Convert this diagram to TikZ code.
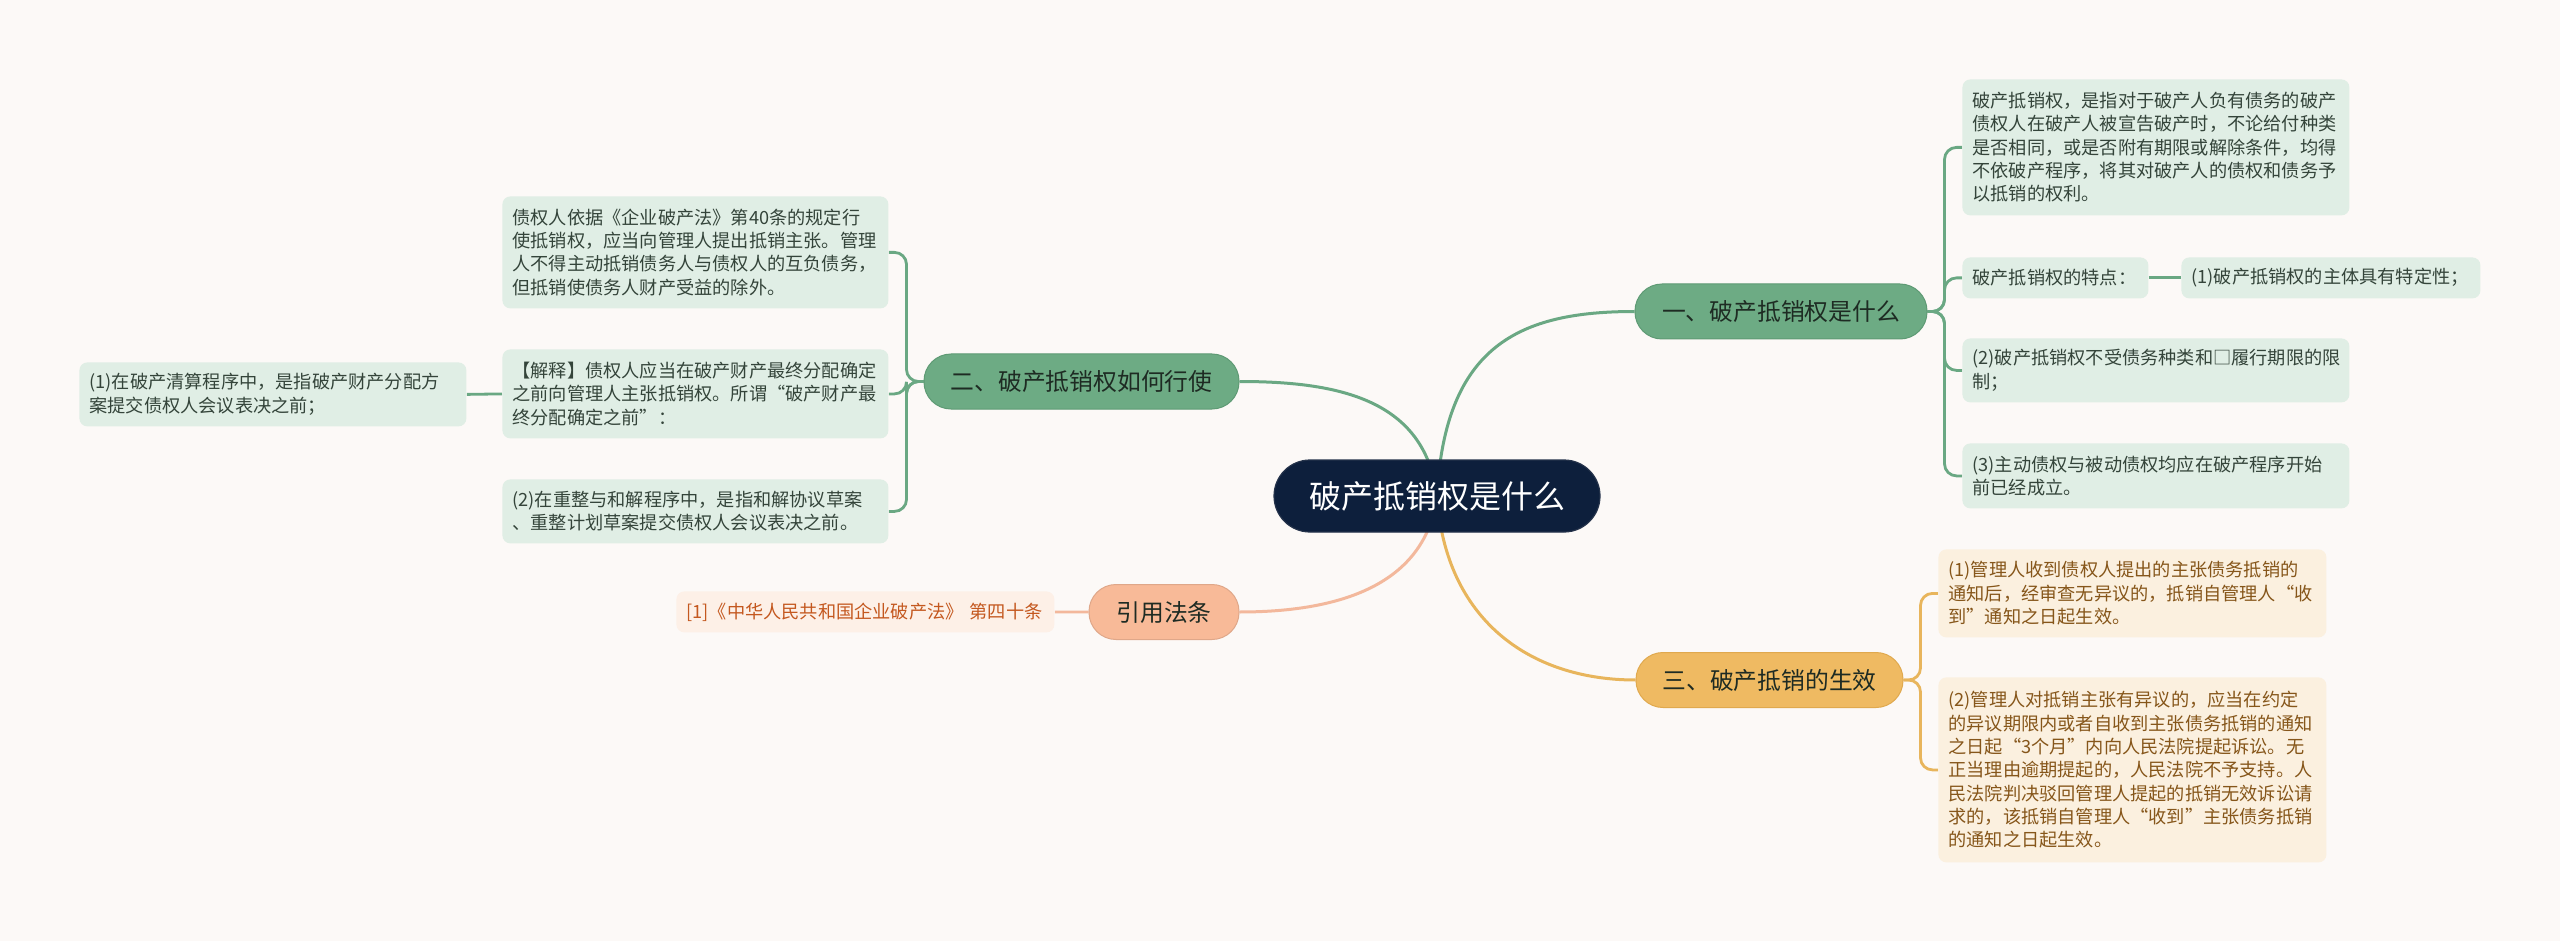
\documentclass[tikz,border=0pt]{standalone}
\usepackage{fontspec}
\setmainfont{Noto Sans CJK SC}
\definecolor{bgc}{HTML}{FCF9F7}
\definecolor{navy}{HTML}{0D1F3C}
\definecolor{gfill}{HTML}{6DAB84}
\definecolor{gdraw}{HTML}{5E9A74}
\definecolor{gline}{HTML}{6AA883}
\definecolor{gleaf}{HTML}{E0EEE5}
\definecolor{gtext}{HTML}{34443A}
\definecolor{btext}{HTML}{1E2B23}
\definecolor{yfill}{HTML}{EFBA62}
\definecolor{ydraw}{HTML}{E0A94E}
\definecolor{yline}{HTML}{E8B55C}
\definecolor{yleaf}{HTML}{FBF0DF}
\definecolor{ytext}{HTML}{86561A}
\definecolor{ofill}{HTML}{F8BA98}
\definecolor{oline}{HTML}{F3B89C}
\definecolor{oleaf}{HTML}{FDF0E7}
\definecolor{otext}{HTML}{C4581F}
\pgfdeclarelayer{bglayer}
\pgfdeclarelayer{linelayer}
\pgfsetlayers{bglayer,linelayer,main}
\begin{document}
\begin{tikzpicture}[x=0.5pt,y=-0.5pt,
  leafbox/.style={anchor=north west, rounded corners=4pt, inner xsep=5pt, inner ysep=0pt, align=left,
    font=\fontsize{9.1pt}{11.65pt}\selectfont},
  gleafbox/.style={leafbox, fill=gleaf, text=gtext},
  yleafbox/.style={leafbox, fill=yleaf, text=ytext},
  oleafbox/.style={leafbox, fill=oleaf, text=otext},
  branchbox/.style={rounded corners=13.5pt, minimum height=27.5pt, inner sep=0pt,
    font=\fontsize{11.9pt}{14pt}\selectfont, text=btext, line width=0.5pt},
  centralbox/.style={rounded corners=18pt, minimum height=36pt, minimum width=163pt, inner sep=0pt,
    fill=navy, draw=navy!80!gray, line width=0.6pt, text=white, font=\fontsize{16pt}{20pt}\selectfont},
  mainline/.style={line width=1.5pt},
  subline/.style={line width=1.4pt, rounded corners=6pt}
]
\useasboundingbox (0,0) rectangle (2560,941);
\begin{pgfonlayer}{bglayer}
\fill[bgc] (0,0) rectangle (2560,941);
\end{pgfonlayer}

% central and branches
\node[centralbox] (c) at (1437,496) {破产抵销权是什么};
\node[branchbox, fill=gfill, draw=gdraw, minimum width=146pt] (b1) at (1781,311.5) {一、破产抵销权是什么};
\node[branchbox, fill=gfill, draw=gdraw, minimum width=157.5pt] (b2) at (1081.5,381.5) {二、破产抵销权如何行使};
\node[branchbox, fill=yfill, draw=ydraw, minimum width=133.5pt] (b3) at (1769.5,680) {三、破产抵销的生效};
\node[branchbox, fill=ofill, draw=ofill!90!black, minimum width=75pt] (b4) at (1164,612) {引用法条};

% leaves of branch 1
\node[gleafbox, text width=183.5pt, minimum height=68pt] (l1a) at (1962,79)
 {破产抵销权，是指对于破产人负有债务的破产\\债权人在破产人被宣告破产时，不论给付种类\\是否相同，或是否附有期限或解除条件，均得\\不依破产程序，将其对破产人的债权和债务予\\以抵销的权利。};
\node[gleafbox, text width=83pt, minimum height=20.5pt] (l1b) at (1962,257) {破产抵销权的特点：};
\node[gleafbox, text width=139.5pt, minimum height=20.5pt] (l1b1) at (2181,257) {(1)破产抵销权的主体具有特定性；};
\node[gleafbox, text width=183.5pt, minimum height=32pt] (l1c) at (1962,338)
 {(2)破产抵销权不受债务种类和□履行期限的限\\制；};
\node[gleafbox, text width=183.5pt, minimum height=32.5pt] (l1d) at (1962,443)
 {(3)主动债权与被动债权均应在破产程序开始\\前已经成立。};

% leaves of branch 3
\node[yleafbox, text width=184pt, minimum height=44pt] (l3a) at (1938,549)
 {(1)管理人收到债权人提出的主张债务抵销的\\通知后，经审查无异议的，抵销自管理人“收\\到”通知之日起生效。};
\node[yleafbox, text width=184pt, minimum height=92.5pt] (l3b) at (1938,677)
 {(2)管理人对抵销主张有异议的，应当在约定\\的异议期限内或者自收到主张债务抵销的通知\\之日起“3个月”内向人民法院提起诉讼。无\\正当理由逾期提起的，人民法院不予支持。人\\民法院判决驳回管理人提起的抵销无效诉讼请\\求的，该抵销自管理人“收到”主张债务抵销\\的通知之日起生效。};

% leaves of branch 2
\node[gleafbox, text width=183pt, minimum height=56pt] (l2a) at (502,196)
 {债权人依据《企业破产法》第40条的规定行\\使抵销权，应当向管理人提出抵销主张。管理\\人不得主动抵销债务人与债权人的互负债务，\\但抵销使债务人财产受益的除外。};
\node[gleafbox, text width=183pt, minimum height=44.5pt] (l2b) at (502,349)
 {【解释】债权人应当在破产财产最终分配确定\\之前向管理人主张抵销权。所谓“破产财产最\\终分配确定之前”：};
\node[gleafbox, text width=183pt, minimum height=32pt] (l2c) at (502,479)
 {(2)在重整与和解程序中，是指和解协议草案\\、重整计划草案提交债权人会议表决之前。};
\node[gleafbox, text width=183.5pt, minimum height=32pt] (l2b1) at (79,362)
 {(1)在破产清算程序中，是指破产财产分配方\\案提交债权人会议表决之前；};

% citation
\node[oleafbox, text width=179pt, minimum height=20.5pt] (cite) at (676,591)
 {\mbox{[1]《中华人民共和国企业破产法》 第四十条}};

% connectors
\begin{pgfonlayer}{linelayer}
\draw[mainline, gline] (c.center) .. controls (1445,345) and (1520,311.5) .. (b1.west);
\draw[mainline, gline] (c.center) .. controls (1425,400) and (1340,381.5) .. (b2.east);
\draw[mainline, oline] (c.center) .. controls (1425,590) and (1330,612) .. (b4.east);
\draw[mainline, yline] (c.center) .. controls (1445,620) and (1530,680) .. (b3.west);

\draw[subline, gline] (b1.east) -- ++(17,0) |- (l1a.west);
\draw[subline, gline] (b1.east) -- ++(17,0) |- (l1b.west);
\draw[subline, gline] (b1.east) -- ++(17,0) |- (l1c.west);
\draw[subline, gline] (b1.east) -- ++(17,0) |- (l1d.west);
\draw[subline, gline] (l1b.east) -- (l1b1.west);

\draw[subline, yline] (b3.east) -- ++(17,0) |- (l3a.west);
\draw[subline, yline] (b3.east) -- ++(17,0) |- (l3b.west);

\draw[subline, gline] (b2.west) -- ++(-17,0) |- (l2a.east);
\draw[subline, gline] (b2.west) -- ++(-17,0) |- (l2b.east);
\draw[subline, gline] (b2.west) -- ++(-17,0) |- (l2c.east);
\draw[subline, gline] (l2b.west) -- (l2b1.east);

\draw[subline, oline] (b4.west) -- (cite.east);
\end{pgfonlayer}
\end{tikzpicture}
\end{document}
